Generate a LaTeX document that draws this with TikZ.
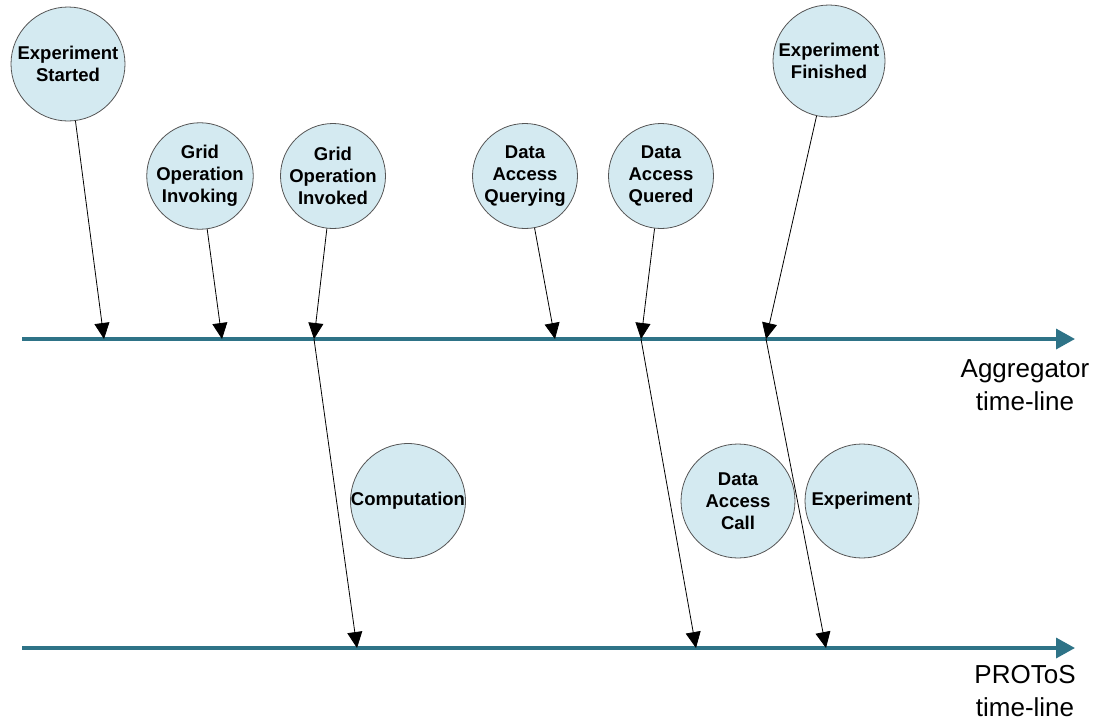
\documentclass[tikz,border=0pt]{standalone}
\usepackage{fontspec}
\setmainfont{Liberation Sans}
\usetikzlibrary{arrows.meta}
\definecolor{tline}{RGB}{46,115,135}
\definecolor{evfill}{RGB}{212,234,241}
\definecolor{evdraw}{RGB}{85,85,85}
\begin{document}
\begin{tikzpicture}[x=1pt,y=-1pt,
  event/.style={circle,draw=evdraw,line width=0.8pt,fill=evfill,inner sep=0pt,
    minimum size=#1,align=center,font=\fontsize{18.5}{22}\selectfont\bfseries},
  event/.default=114pt,
  timeline/.style={draw=tline,line width=3.5pt,
    -{Triangle[length=19pt,width=20pt]}},
  tlabel/.style={align=center,font=\fontsize{26}{33}\selectfont,inner sep=0pt},
  link/.style={draw=black,line width=0.8pt,-{Triangle[length=16pt,width=15pt]}}]
\useasboundingbox (0,0) rectangle (1099,720);

% time-lines
\coordinate (aggS) at (22,339);
\coordinate (aggE) at (1075,339);
\coordinate (proS) at (22,648);
\coordinate (proE) at (1075,648);
\draw[timeline] (aggS) -- (aggE);
\draw[timeline] (proS) -- (proE);
% anchor=base sits on the last line of a multi-line node
\node[tlabel,anchor=base] (agglbl) at (1025,410) {Aggregator\\time-line};
\node[tlabel,anchor=base] (prolbl) at (1025,716) {PROToS\\time-line};

% events on the aggregator side
\node[event] (start) at (68,64) {Experiment\\Started};
\node[event=105pt] (invoking) at (200,176) {Grid\\Operation\\Invoking};
\node[event=105pt] (invoked) at (333,176) {Grid\\Operation\\Invoked};
\node[event=105pt] (querying) at (525,176) {Data\\Access\\Querying};
\node[event=105pt] (quered) at (661,176) {Data\\Access\\Quered};
\node[event=112pt] (finished) at (829,61) {Experiment\\Finished};

% events on the PROToS side
\node[event] (comp) at (408,501) {Computation};
\node[event] (dacall) at (738,501) {Data\\Access\\Call};
\node[event] (exper) at (862,501) {Experiment};

% points on the aggregator time-line
\coordinate (a1) at (104,339);
\coordinate (a2) at (222,339);
\coordinate (a3) at (314,339);
\coordinate (a4) at (555,339);
\coordinate (a5) at (641,339);
\coordinate (a6) at (766,339);
% points on the PROToS time-line
\coordinate (p1) at (357,648);
\coordinate (p2) at (696,648);
\coordinate (p3) at (826,648);

\draw[link] (start) -- (a1);
\draw[link] (invoking) -- (a2);
\draw[link] (invoked) -- (a3);
\draw[link] (querying) -- (a4);
\draw[link] (quered) -- (a5);
\draw[link] (finished) -- (a6);
\draw[link] (a3) -- (p1);
\draw[link] (a5) -- (p2);
\draw[link] (a6) -- (p3);
\end{tikzpicture}
\end{document}
